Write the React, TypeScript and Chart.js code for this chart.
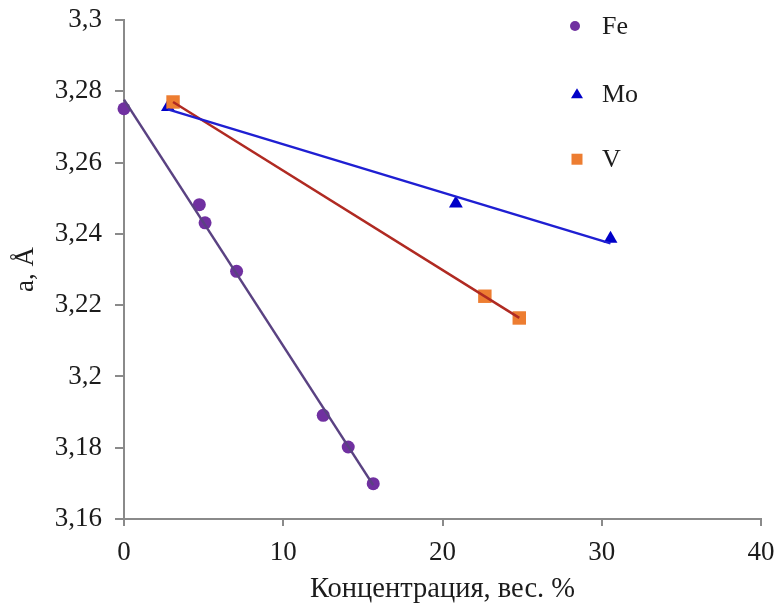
import { useEffect, useRef } from 'react';
import { Chart, registerables } from 'chart.js';

Chart.register(...registerables);

// ---- data ----
const seriesNames = ['Fe', 'Mo', 'V'];
const feX = [0, 4.73, 5.09, 7.07, 12.51, 14.08, 15.65];
const feY = [3.2751, 3.2482, 3.2431, 3.2295, 3.1891, 3.1802, 3.1699];
const moX = [2.76, 20.84, 30.55];
const moY = [3.2756, 3.2485, 3.2386];
const vX = [3.08, 22.66, 24.82];
const vY = [3.277, 3.2225, 3.2164];
const xTicks = [0, 10, 20, 30, 40];
const yTicks = [3.16, 3.18, 3.2, 3.22, 3.24, 3.26, 3.28, 3.3];

const feColor = '#7030A0';
const moColor = '#0000C8';
const vColor = '#ED7D31';
const feLine = '#5a4282';
const moLine = '#1f1fd2';
const vLine = '#B02A22';

const FONT = "'Liberation Serif', 'Times New Roman', serif";
const TEXT = '#1c1c1c';
const AXIS = '#8a8a8a';

function pts(xs: number[], ys: number[]) {
  return xs.map((x, i) => ({ x, y: ys[i] }));
}

function trend(xs: number[], ys: number[]) {
  const n = xs.length;
  const mx = xs.reduce((a, b) => a + b, 0) / n;
  const my = ys.reduce((a, b) => a + b, 0) / n;
  let sxy = 0;
  let sxx = 0;
  for (let i = 0; i < n; i++) {
    sxy += (xs[i] - mx) * (ys[i] - my);
    sxx += (xs[i] - mx) * (xs[i] - mx);
  }
  const k = sxy / sxx;
  const b = my - k * mx;
  const x0 = Math.min(...xs);
  const x1 = Math.max(...xs);
  return [
    { x: x0, y: k * x0 + b },
    { x: x1, y: k * x1 + b },
  ];
}

const legendPlugin = {
  id: 'sideLegend',
  afterDraw(chart: any) {
    const { ctx, chartArea: a } = chart;
    const items = [
      { label: seriesNames[0], style: 'circle', color: feColor },
      { label: seriesNames[1], style: 'triangle', color: moColor },
      { label: seriesNames[2], style: 'rect', color: vColor },
    ];
    const w = a.right - a.left;
    const h = a.bottom - a.top;
    const mx = a.left + 0.708 * w;
    const ys = [0.012, 0.148, 0.279];
    ctx.save();
    items.forEach((it, i) => {
      const y = a.top + ys[i] * h;
      ctx.fillStyle = it.color;
      ctx.beginPath();
      if (it.style === 'circle') {
        ctx.arc(mx, y, 5, 0, Math.PI * 2);
      } else if (it.style === 'triangle') {
        ctx.moveTo(mx + 2, y - 5.5);
        ctx.lineTo(mx + 8, y + 4.5);
        ctx.lineTo(mx - 4, y + 4.5);
        ctx.closePath();
      } else {
        ctx.rect(mx - 3.5, y - 5.5, 11, 11);
      }
      ctx.fill();
      ctx.fillStyle = TEXT;
      ctx.font = `26px ${FONT}`;
      ctx.textBaseline = 'middle';
      ctx.textAlign = 'left';
      ctx.fillText(it.label, mx + 27, y + 1);
    });
    ctx.restore();
  },
};

export default function App() {
  const ref = useRef<HTMLCanvasElement | null>(null);

  useEffect(() => {
    document.body.style.margin = '0';
    const canvas = ref.current;
    if (!canvas) return;
    const chart = new Chart(canvas, {
      type: 'scatter',
      data: {
        datasets: [
          {
            type: 'line',
            label: 'Fe trend',
            data: trend(feX, feY),
            borderColor: feLine,
            borderWidth: 2.5,
            pointRadius: 0,
            fill: false,
            order: 1,
            clip: false,
          } as any,
          {
            type: 'line',
            label: 'Mo trend',
            data: trend(moX, moY),
            borderColor: moLine,
            borderWidth: 2.5,
            pointRadius: 0,
            fill: false,
            order: 1,
            clip: false,
          } as any,
          {
            type: 'line',
            label: 'V trend',
            data: trend(vX, vY),
            borderColor: vLine,
            borderWidth: 2.5,
            pointRadius: 0,
            fill: false,
            order: 1,
            clip: false,
          } as any,
          {
            label: seriesNames[0],
            data: pts(feX, feY),
            backgroundColor: feColor,
            borderColor: feColor,
            pointStyle: 'circle',
            pointRadius: 6.5,
            borderWidth: 0,
            order: 3,
            clip: false,
          } as any,
          {
            label: seriesNames[1],
            data: pts(moX, moY),
            backgroundColor: moColor,
            borderColor: moColor,
            pointStyle: 'triangle',
            pointRadius: 8,
            borderWidth: 0,
            order: 4,
            clip: false,
          } as any,
          {
            label: seriesNames[2],
            data: pts(vX, vY),
            backgroundColor: vColor,
            borderColor: vColor,
            pointStyle: 'rect',
            pointRadius: 9.5,
            borderWidth: 0,
            order: 3,
            clip: false,
          } as any,
        ],
      },
      options: {
        animation: false,
        responsive: true,
        maintainAspectRatio: false,
        layout: { padding: { top: 20, right: 16, left: 0, bottom: 0 } },
        plugins: {
          legend: { display: false },
          tooltip: { enabled: false },
        },
        scales: {
          x: {
            type: 'linear',
            min: 0,
            max: 40,
            afterBuildTicks: (s: any) => {
              s.ticks = xTicks.map((v) => ({ value: v }));
            },
            afterFit: (s: any) => {
              s.height = 89;
              s.paddingLeft = 0;
              s.paddingRight = 0;
            },
            grid: {
              drawOnChartArea: false,
              drawTicks: true,
              tickLength: 7,
              color: AXIS,
              lineWidth: 2,
            },
            border: { color: AXIS, width: 2 },
            ticks: {
              color: TEXT,
              font: { family: FONT, size: 27 },
              padding: 11,
              maxRotation: 0,
            },
            title: {
              display: true,
              text: 'Концентрация, вес. %',
              color: TEXT,
              font: { family: FONT, size: 28.5 },
              padding: { top: 1, bottom: 1 },
            },
          },
          y: {
            type: 'linear',
            min: 3.16,
            max: 3.3,
            afterBuildTicks: (s: any) => {
              s.ticks = yTicks.map((v) => ({ value: v }));
            },
            afterFit: (s: any) => {
              s.width = 124;
              s.paddingTop = 0;
              s.paddingBottom = 0;
            },
            grid: {
              drawOnChartArea: false,
              drawTicks: true,
              tickLength: 9,
              color: AXIS,
              lineWidth: 2,
            },
            border: { color: AXIS, width: 2 },
            ticks: {
              color: TEXT,
              font: { family: FONT, size: 27 },
              padding: 13,
              callback: (v: any) => String(Math.round(Number(v) * 100) / 100).replace('.', ','),
            },
            title: {
              display: true,
              text: 'a, Å',
              color: TEXT,
              font: { family: FONT, size: 27 },
              padding: { top: 10, bottom: 10 },
            },
          },
        },
      },
      plugins: [legendPlugin],
    });
    return () => chart.destroy();
  }, []);

  return (
    <div style={{ position: 'relative', width: 777, height: 608 }}>
      <canvas ref={ref} />
    </div>
  );
}
